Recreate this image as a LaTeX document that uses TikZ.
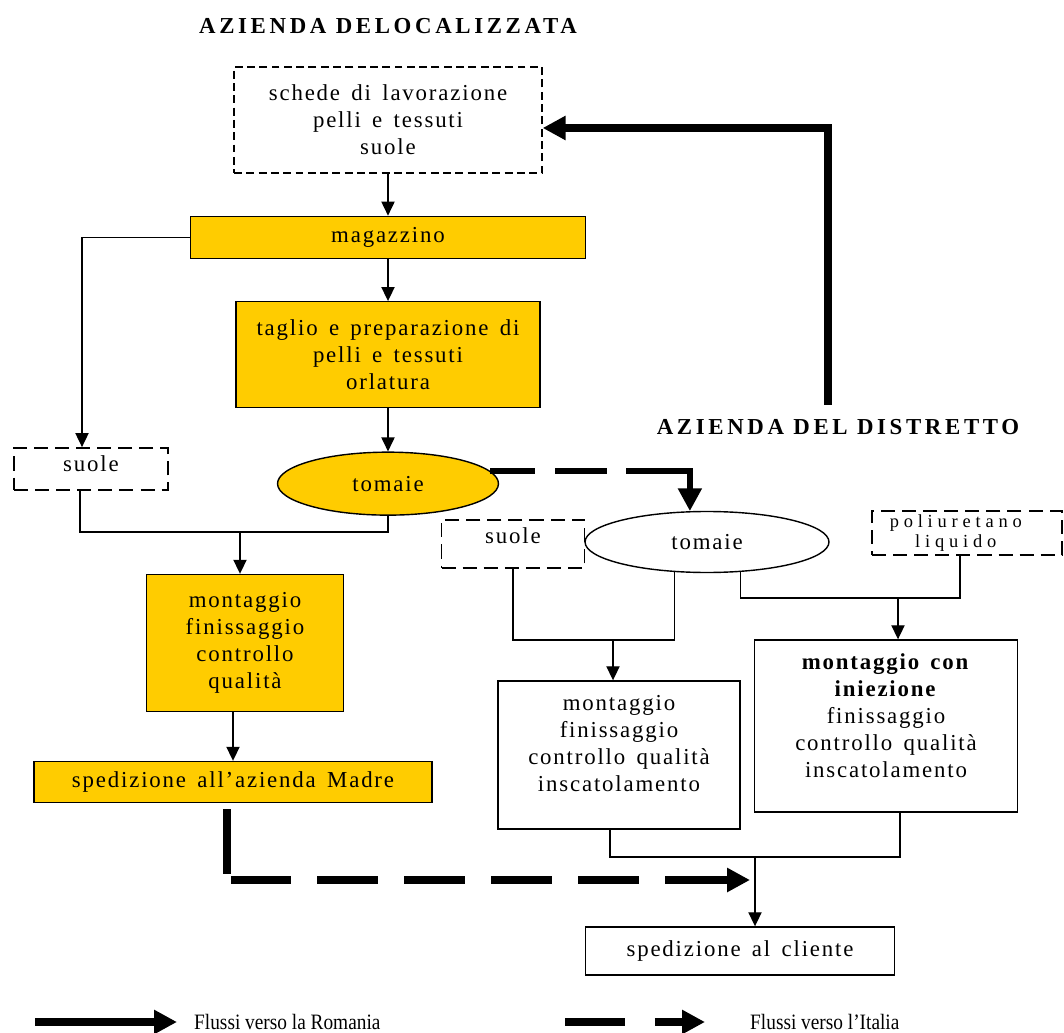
\documentclass[tikz,border=0pt]{standalone}
\usepackage{fontspec}
\setmainfont{Liberation Serif}[LetterSpace=8, WordSpace=1.5]
\newfontfamily\legendfont{Liberation Serif}[FakeStretch=0.88]
\newfontfamily\titlefont{Liberation Serif}[LetterSpace=16]
\newfontfamily\widefont{Liberation Serif}[LetterSpace=26]
\usetikzlibrary{arrows.meta, positioning, shapes}
\definecolor{giallo}{HTML}{FFCC00}
\tikzset{
        >={Triangle[length=8pt,width=7.5pt]}, % thin arrow heads
        every node/.style={font=\fontsize{13}{15.3}\selectfont, align=center},
        line/.style={line width=0.8pt}, % joining lines
        arr/.style={line, ->},
        box/.style={draw, line width=0.8pt, inner sep=2pt},
        yellowbox/.style={box, fill=giallo},
        dashbox/.style={box, line width=1pt, dash pattern=on 8pt off 4pt},
        romania/.style={line width=4pt, -{Triangle[length=13pt,width=13pt]}}, % flows to Romania
        italia/.style={romania, dash pattern=on 1.22cm off 0.52cm}, % flows to Italy
        title/.style={font=\titlefont\bfseries\fontsize{13}{15}\selectfont},
        legend/.style={font=\legendfont\fontsize{12.5}{14}\selectfont, anchor=west},
    }
\begin{document}
\begin{tikzpicture}[x=0.02cm, y=-0.02cm]
    \useasboundingbox (0,0) rectangle (1064,1033);
    % azienda delocalizzata
    \node[title] (titleD) at (388,26) {AZIENDA DELOCALIZZATA};
    \node[dashbox, line width=0.8pt, dash pattern=on 4.5pt off 2.5pt, minimum width=6.16cm, minimum height=2.12cm] (schede) at (388,120) {schede di lavorazione\\pelli e tessuti\\suole};
    \node[yellowbox, minimum width=7.9cm, minimum height=0.84cm, below=0.84cm of schede] (magazzino) {magazzino};
    \node[yellowbox, minimum width=6.08cm, minimum height=2.12cm, below=0.84cm of magazzino] (taglio) {taglio e preparazione di\\pelli e tessuti\\orlatura};
    \node[ellipse, draw, line, fill=giallo, minimum width=4.42cm, minimum height=1.26cm, inner sep=0pt, below=0.86cm of taglio] (tomaieL) {tomaie};
    \node[dashbox, minimum width=3.08cm, minimum height=0.84cm, text depth=6pt] (suoleL) at (91,469) {suole};
    \node[yellowbox, minimum width=3.94cm, minimum height=2.74cm] (montL) at (245,643) {montaggio\\finissaggio\\controllo\\qualità};
    \node[yellowbox, minimum width=7.96cm, minimum height=0.82cm] (spedM) at (233,782) {spedizione all’azienda Madre};
    % azienda del distretto
    \node[title] (titleR) at (838,427) {AZIENDA DEL DISTRETTO};
    \node[ellipse, draw, line, minimum width=4.88cm, minimum height=1.22cm, inner sep=0pt] (tomaieR) at (707,542) {tomaie};
    \node[dashbox, minimum width=2.86cm, minimum height=0.96cm, text depth=10pt] (suoleR) at (513,544) {suole};
    \node[dashbox, font=\widefont\fontsize{10.5}{11.3}\selectfont, minimum width=3.8cm, minimum height=0.8cm] (poli) at (967,533) {poliuretano\hspace*{0.45cm}\\liquido\hspace*{0.45cm}};
    \node[box, minimum width=4.84cm, minimum height=2.96cm, text depth=13pt] (montM) at (619,755) {montaggio\\finissaggio\\controllo qualità\\inscatolamento};
    \node[box, minimum width=5.26cm, minimum height=3.44cm, text depth=12pt] (montR) at (886,726) {\textbf{montaggio con}\\\textbf{iniezione}\\finissaggio\\controllo qualità\\inscatolamento};
    \node[box, minimum width=6.18cm, minimum height=0.96cm] (spedC) at (740,951) {spedizione al cliente};
    % join points
    \coordinate (jL) at (240,532);
    \coordinate (jM) at (613,640);
    \coordinate (jR) at (898,598);
    \coordinate (jC) at (755,857);
    \coordinate (cRom) at (828,405);
    \coordinate (cInd) at (750,880);
    % left flow
    \draw[arr] (schede) -- (magazzino);
    \draw[arr] (magazzino) -- (taglio);
    \draw[arr] (taglio) -- (tomaieL);
    \draw[arr] (magazzino.west) -| ([xshift=-0.18cm]suoleL.north);
    \draw[line] ([xshift=-0.22cm]suoleL.south) |- (jL) -| (tomaieL.south);
    \draw[arr] (jL) -- (montL.north -| jL);
    \draw[arr] (montL.south -| spedM.north) -- (spedM.north);
    % right flow
    \draw[line] (suoleR.south) |- (jM) -| (tomaieR.223);
    \draw[arr] (jM) -- (montM.north -| jM);
    \draw[line] (tomaieR.318) |- (jR) -| ([xshift=-0.14cm]poli.south);
    \draw[arr] (jR) -- (montR.north -| jR);
    \draw[line] ([xshift=-0.18cm]montM.south) |- (jC) -| ([xshift=0.28cm]montR.south);
    \draw[arr] (jC) -- (spedC.north -| jC);
    % flows between the two firms
    \draw[romania] (cRom) |- ([yshift=-0.16cm]schede.east);
    \draw[italia, line width=3.2pt, dash pattern=on 0.9cm off 0.4cm on 1.04cm off 0.38cm on 3cm] (tomaieL.7) -| (tomaieR.119);
    \draw[italia, dash pattern=on 1.3cm off 0.2cm on 1.2cm off 0.52cm on 1.22cm off 0.52cm on 1.22cm off 0.52cm on 1.22cm off 0.52cm on 1.22cm off 0.52cm on 5cm] ([xshift=-0.12cm,yshift=-0.12cm]spedM.south) |- (cInd);
    % legend
    \coordinate (legR1) at (35,1022);
    \coordinate (legR2) at (177,1022);
    \coordinate (legI1) at (565,1022);
    \coordinate (legI2) at (705,1022);
    \draw[romania] (legR1) -- (legR2);
    \node[legend] (legRtxt) at (188,1022) {Flussi verso la Romania};
    \draw[italia, dash pattern=on 1.2cm off 0.6cm] (legI1) -- (legI2);
    \node[legend] (legItxt) at (744,1022) {Flussi verso l’Italia};
\end{tikzpicture}
\end{document}
